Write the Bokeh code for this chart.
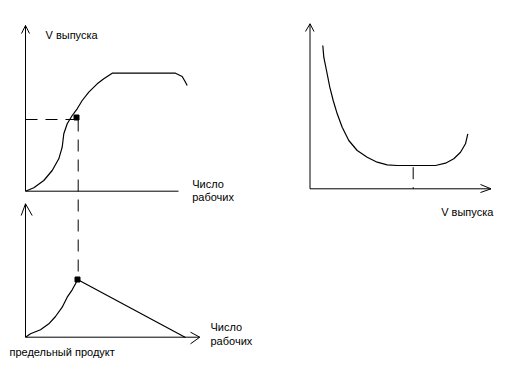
from bokeh.plotting import figure
from bokeh.models import Range1d
from bokeh.core.properties import value
from bokeh.embed import file_html
from bokeh.resources import INLINE

# Coordinates are in picture space (x to the right, y downward)
# Total product curve (top-left)
tp_x = [25, 33.3, 43.3, 51.7, 58.3, 61.7, 63.3, 66.7, 71.7, 76.7, 81.7, 88.3, 96.7, 103.3, 111.7, 175, 181.7, 185, 186.7]
tp_y = [190.7, 187.3, 180, 170, 158.3, 146.7, 133.3, 123.3, 115, 108.3, 100, 91.7, 83.3, 78.3, 72.7, 72.7, 76, 81.7, 85]
# Marginal product curve (bottom-left)
mp_x = [25, 30, 40, 48.3, 55, 61.7, 66.7, 71.7, 75, 77, 185]
mp_y = [336.7, 333.3, 329.3, 323.3, 316, 306.7, 296.7, 289.3, 283.3, 279, 337]
# Average cost curve (right)
ac_x = [322.3, 323.3, 326, 329.3, 332.7, 336.7, 341.7, 348.3, 356.7, 366.7, 376.7, 386.7, 396.7, 435, 445, 453.3, 460, 465, 467.3]
ac_y = [45, 56.7, 70, 86.7, 100, 113.3, 126.7, 140, 150, 156.7, 161.7, 164.3, 165, 165, 162.7, 158.3, 151.7, 143.3, 133.3]

# Axes (polylines incl. arrowheads)
axes_x = [
    [21, 25, 29], [25, 25, 178],
    [20.7, 25, 31.7], [25, 25, 199], [190, 199.3, 190],
    [305, 309.5, 313.5], [309.5, 309.5, 490.5], [480, 490.5, 480],
]
axes_y = [
    [33, 25, 33], [25, 190.7, 190.7],
    [215, 203.3, 215], [203.3, 336.7, 336.7], [331.7, 336.7, 343.3],
    [31, 23.3, 31], [23.3, 188.3, 188.3], [184, 188.3, 192],
]

# Dashed guide lines
dash_x = [[25, 76], [77.7, 77.7], [412.7, 412.7]]
dash_y = [[119, 119], [119, 279], [166.7, 188.3]]

# Marked points
pt_x = [76, 77]
pt_y = [117, 279]

# Labels
lab_text = ["V выпуска", "Число", "рабочих", "Число", "рабочих", "предельный продукт", "V выпуска"]
lab_x = [45, 191.7, 191.7, 210, 210, 9, 440.7]
lab_y = [34, 183, 196, 326, 340, 351, 211.7]

p = figure(width=496, height=365, output_backend="svg", toolbar_location=None,
           x_range=Range1d(0, 496), y_range=Range1d(365, 0), min_border=0)
p.axis.visible = False
p.grid.visible = False
p.outline_line_color = None
p.background_fill_color = "white"
p.border_fill_color = "white"

p.multi_line(axes_x, axes_y, line_color="black", line_width=1)
p.multi_line(dash_x, dash_y, line_color="black", line_width=1, line_dash="12 8")
p.line(tp_x, tp_y, line_color="black", line_width=1.2)
p.line(mp_x, mp_y, line_color="black", line_width=1.2)
p.line(ac_x, ac_y, line_color="black", line_width=1.2)
p.scatter(pt_x, pt_y, marker="square", size=5, color="black")
p.text(lab_x, lab_y, text=lab_text, text_font=value("Liberation Sans"),
       text_font_size="11px", text_baseline="middle", text_align="left", text_color="black")

open("out.html", "w").write(file_html(p, INLINE))
